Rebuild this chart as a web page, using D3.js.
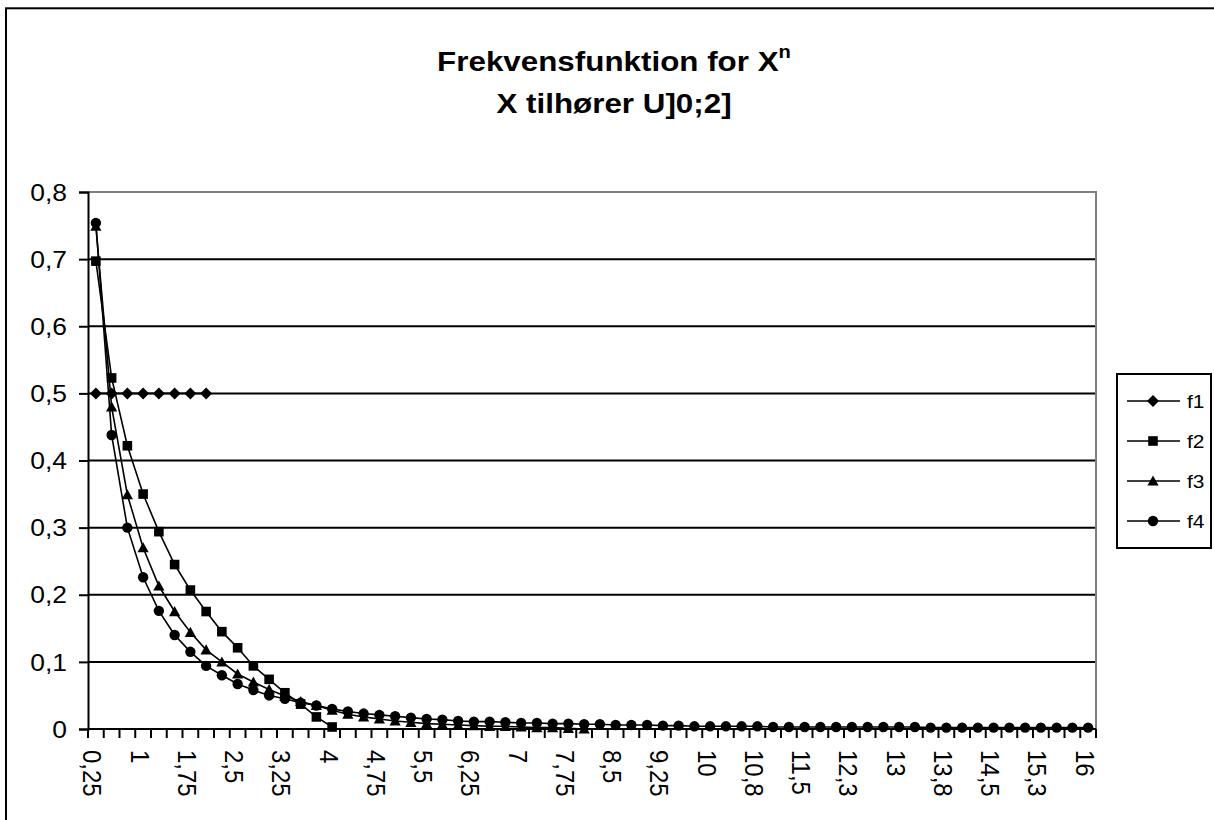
<!DOCTYPE html>
<html>
<head>
<meta charset="utf-8">
<script src="https://cdn.jsdelivr.net/npm/d3@7"></script>
<style>
  body { margin: 0; background: #fff; }
  text { font-family: "Liberation Sans", Arial, sans-serif; fill: #000; }
</style>
</head>
<body>
<svg id="chart" width="1214" height="820"></svg>
<script>
// x categories (Excel shows every third one)
const categories = ["0,25","0,5","0,75","1","1,25","1,5","1,75","2","2,25","2,5","2,75","3","3,25","3,5","3,75","4",
  "4,25","4,5","4,75","5","5,25","5,5","5,75","6","6,25","6,5","6,75","7","7,25","7,5","7,75","8",
  "8,25","8,5","8,75","9","9,25","9,5","9,75","10","10,3","10,5","10,8","11","11,3","11,5","11,8","12",
  "12,3","12,5","12,8","13","13,3","13,5","13,8","14","14,3","14,5","14,8","15","15,3","15,5","15,8","16"];

const yTicks = [0, 0.1, 0.2, 0.3, 0.4, 0.5, 0.6, 0.7, 0.8];
const yTickLabels = ["0","0,1","0,2","0,3","0,4","0,5","0,6","0,7","0,8"];

const seriesNames = ["f1", "f2", "f3", "f4"];

const f1 = [0.5, 0.5, 0.5, 0.5, 0.5, 0.5, 0.5, 0.5];

const f2 = [0.697, 0.523, 0.422, 0.350, 0.294, 0.245, 0.207, 0.175,
  0.145, 0.121, 0.094, 0.074, 0.054, 0.037, 0.018, 0.003];

const f3 = [0.749, 0.480, 0.349, 0.270, 0.213, 0.175, 0.144, 0.118,
  0.100, 0.082, 0.070, 0.059, 0.049, 0.041, 0.035, 0.028,
  0.022, 0.018, 0.015, 0.012, 0.010, 0.008, 0.007, 0.006,
  0.005, 0.004, 0.004, 0.003, 0.002, 0.002, 0.001, 0.000];

const f4 = [0.754, 0.438, 0.300, 0.226, 0.176, 0.140, 0.115, 0.094,
  0.080, 0.067, 0.058, 0.050, 0.045, 0.039, 0.035, 0.030,
  0.026, 0.023, 0.021, 0.019, 0.017, 0.015, 0.014, 0.012,
  0.011, 0.011, 0.010, 0.009, 0.009, 0.008, 0.008, 0.007,
  0.007, 0.006, 0.006, 0.006, 0.005, 0.005, 0.004, 0.004,
  0.004, 0.004, 0.004, 0.003, 0.003, 0.003, 0.003, 0.003,
  0.003, 0.003, 0.003, 0.003, 0.003, 0.002, 0.002, 0.002,
  0.002, 0.002, 0.002, 0.002, 0.002, 0.002, 0.002, 0.002];

const svg = d3.select("#chart");
const plot = { left: 88, right: 1096, top: 192, bottom: 729 };
const stretch = 1.1; // the original fonts are a bit wider than Arial

// outer chart frame (right/bottom edges fall outside the picture)
svg.append("rect")
  .attr("x", 6).attr("y", 8.3)
  .attr("width", 1230).attr("height", 830)
  .attr("fill", "none").attr("stroke", "#000").attr("stroke-width", 2);

// title
const title = svg.append("g").attr("transform", `translate(614,0) scale(1.12,1)`);
const t1 = title.append("text")
  .attr("x", 0).attr("y", 71.5)
  .attr("text-anchor", "middle")
  .attr("font-size", 28).attr("font-weight", "bold");
t1.append("tspan").text("Frekvensfunktion for X");
t1.append("tspan").attr("dy", -13).attr("font-size", 18).text("n");
title.append("text")
  .attr("x", 0).attr("y", 113)
  .attr("text-anchor", "middle")
  .attr("font-size", 28).attr("font-weight", "bold")
  .text("X tilhører U]0;2]");

// scales
const x = d3.scaleBand()
  .domain(categories)
  .range([plot.left, plot.right])
  .paddingInner(0).paddingOuter(0);

const y = d3.scaleLinear()
  .domain([0, 0.8])
  .range([plot.bottom, plot.top]);

const cx = d => x(d) + x.bandwidth() / 2;

// gridlines
svg.append("g")
  .selectAll("line")
  .data(yTicks.filter(v => v > 0 && v < 0.8))
  .join("line")
  .attr("x1", plot.left).attr("x2", plot.right)
  .attr("y1", d => y(d)).attr("y2", d => y(d))
  .attr("stroke", "#000").attr("stroke-width", 2);

// plot area border (top and right, grey)
svg.append("path")
  .attr("d", `M${plot.left},${y(0.8)}H${plot.right}V${plot.bottom}`)
  .attr("fill", "none").attr("stroke", "#808080").attr("stroke-width", 2);

// y axis
const yAxis = svg.append("g")
  .attr("transform", `translate(${plot.left},0)`)
  .call(d3.axisLeft(y).tickValues(yTicks).tickSize(9).tickFormat(""));
yAxis.select(".domain").attr("stroke", "#000").attr("stroke-width", 2);
yAxis.selectAll(".tick line").attr("stroke", "#000").attr("stroke-width", 2);

svg.append("g")
  .selectAll("text")
  .data(yTicks)
  .join("text")
  .attr("transform", d => `translate(67,${y(d)}) scale(${stretch},1)`)
  .attr("text-anchor", "end")
  .attr("dy", "0.36em")
  .attr("font-size", 24)
  .text((d, i) => yTickLabels[i]);

// x axis: ticks on every category boundary
const xb = svg.append("g");
xb.selectAll("line")
  .data(d3.range(categories.length + 1))
  .join("line")
  .attr("x1", i => i < categories.length ? x(categories[i]) : plot.right)
  .attr("x2", i => i < categories.length ? x(categories[i]) : plot.right)
  .attr("y1", plot.bottom).attr("y2", plot.bottom + 9)
  .attr("stroke", "#000").attr("stroke-width", 2);
xb.append("line")
  .attr("x1", plot.left).attr("x2", plot.right)
  .attr("y1", plot.bottom).attr("y2", plot.bottom)
  .attr("stroke", "#000").attr("stroke-width", 2);

xb.selectAll("text")
  .data(categories.filter((c, i) => i % 3 === 0))
  .join("text")
  .attr("transform", d => `translate(${cx(d) - 3},750) scale(${stretch},1) rotate(90)`)
  .attr("text-anchor", "start")
  .attr("dy", "0.36em")
  .attr("font-size", 24)
  .text(d => d);

// markers
const markerPaths = {
  f1: "M0,-6L6,0L0,6L-6,0Z",
  f2: "M-4.8,-4.8H4.8V4.8H-4.8Z",
  f3: "M0,-5.5L5.6,4.6L-5.6,4.6Z",
  f4: d3.symbol(d3.symbolCircle, Math.PI * 5.2 * 5.2)()
};

const allSeries = [f1, f2, f3, f4];
const line = d3.line()
  .x((d, i) => cx(categories[i]))
  .y(d => y(d));

const series = svg.append("g")
  .selectAll("g")
  .data(allSeries.map((vals, k) => ({ name: seriesNames[k], vals })))
  .join("g");

series.append("path")
  .attr("d", s => line(s.vals))
  .attr("fill", "none")
  .attr("stroke", "#000")
  .attr("stroke-width", 1.6);

series.each(function(s) {
  d3.select(this).selectAll("path.m")
    .data(s.vals)
    .join("path")
    .attr("class", "m")
    .attr("transform", (d, i) => `translate(${cx(categories[i])},${y(d)})`)
    .attr("d", markerPaths[s.name])
    .attr("fill", "#000");
});

// legend
const legend = svg.append("g");
legend.append("rect")
  .attr("x", 1117).attr("y", 374)
  .attr("width", 94).attr("height", 174)
  .attr("fill", "#fff").attr("stroke", "#000").attr("stroke-width", 2);

const ly = d3.scalePoint().domain(seriesNames).range([401, 521]);
const items = legend.selectAll("g.item")
  .data(seriesNames)
  .join("g")
  .attr("class", "item")
  .attr("transform", d => `translate(0,${ly(d)})`);
items.append("line")
  .attr("x1", 1127).attr("x2", 1180)
  .attr("stroke", "#000").attr("stroke-width", 1.6);
items.append("path")
  .attr("transform", "translate(1153,0)")
  .attr("d", d => markerPaths[d])
  .attr("fill", "#000");
items.append("text")
  .attr("transform", `translate(1187,0) scale(${stretch},1)`)
  .attr("dy", "0.36em")
  .attr("font-size", 19)
  .text(d => d);
</script>
</body>
</html>
